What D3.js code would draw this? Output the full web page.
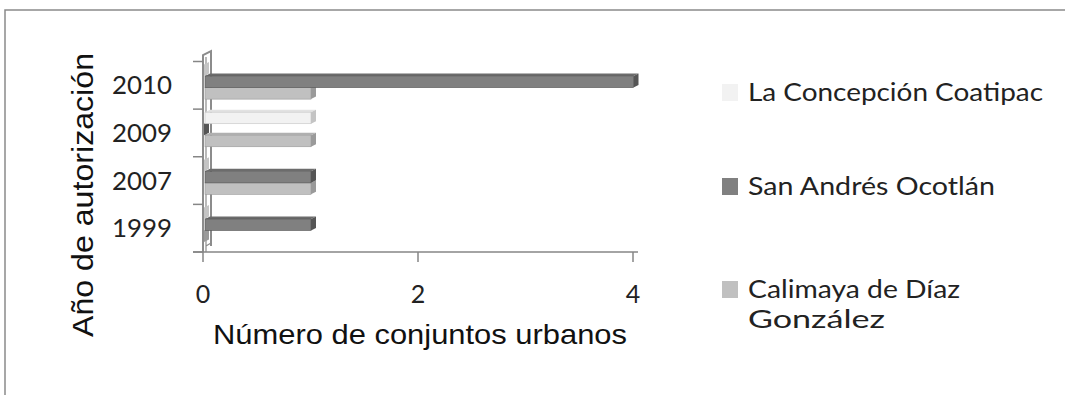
<!DOCTYPE html>
<html>
<head>
<meta charset="utf-8">
<script src="https://cdn.jsdelivr.net/npm/d3@7"></script>
<style>
  html, body { margin: 0; padding: 0; background: #fff; }
  svg { display: block; }
</style>
</head>
<body>
<script>
// Conjuntos urbanos autorizados por año y localidad
const categories = ["1999", "2007", "2009", "2010"];
const seriesNames = ["La Concepción Coatipac", "San Andrés Ocotlán", "Calimaya de Díaz González"];
const concepcion = [0, 0, 1, 0];
const sanAndres  = [1, 1, 0, 4];
const calimaya   = [0, 1, 1, 1];
const xTicks = [0, 2, 4];
const legendLabels = [["La Concepción Coatipac"], ["San Andrés Ocotlán"], ["Calimaya de Díaz", "González"]];
const yTitle = "Año de autorización";
const xTitle = "Número de conjuntos urbanos";

const seriesValues = [concepcion, sanAndres, calimaya];
const fronts = ["#f2f2f2", "#808080", "#c0c0c0"];
const sides  = ["#c4c4c4", "#555555", "#9a9a9a"];
const tops   = ["#e2e2e2", "#6c6c6c", "#b0b0b0"];

const W = 1065, H = 395;
const svg = d3.select("body").append("svg").attr("width", W).attr("height", H);

// chart frame
svg.append("path").attr("d", `M5,${H} L5,10 L${W},10`)
  .attr("fill", "none").attr("stroke", "#8a8a8a").attr("stroke-width", 1.5);

const x = d3.scaleLinear().domain([0, 4]).range([203, 633]);
const y0 = d3.scaleBand().domain(categories.slice().reverse()).range([61.5, 252]);
const bw = y0.bandwidth();
const y1 = d3.scaleBand().domain(d3.range(seriesNames.length)).range([bw * 0.065, bw * 0.79]);
const axisColor = "#868686";
const dx = 5, dy = 2.5;

// back wall (thin slab standing on the value axis origin)
const wall = svg.append("g").attr("fill", "none").attr("stroke", "#8c8c8c").attr("stroke-width", 1.2);
wall.append("path").attr("d", `M203,252 L203,55 L211,51 L211,246`).attr("stroke-width", 2);
wall.append("path").attr("d", `M206,252 L206,57 M206,246 L211,243`);

// floor line and category axis ticks
svg.append("line").attr("x1", 193).attr("x2", 638).attr("y1", 252).attr("y2", 252)
  .attr("stroke", axisColor).attr("stroke-width", 1.5);
const bounds = categories.map(c => y0(c)).concat([y0.range()[1]]);
svg.append("g").selectAll("line").data(bounds).join("line")
  .attr("x1", 193).attr("x2", 203).attr("y1", d => d).attr("y2", d => d)
  .attr("stroke", axisColor).attr("stroke-width", 1.5);

// value axis ticks and labels
const xAxis = svg.append("g");
xAxis.selectAll("line").data(xTicks).join("line")
  .attr("x1", d => x(d)).attr("x2", d => x(d)).attr("y1", 252).attr("y2", 262)
  .attr("stroke", axisColor).attr("stroke-width", 1.5);
xAxis.selectAll("text").data(xTicks).join("text")
  .attr("x", d => x(d)).attr("y", 303)
  .attr("text-anchor", "middle")
  .attr("font-family", "Lato, 'Open Sans', sans-serif").attr("font-size", 25)
  .attr("fill", "#222").text(d => d);

// category labels
svg.append("g").selectAll("text").data(categories).join("text")
  .attr("x", 172).attr("y", d => y0(d) + bw / 2 + 9)
  .attr("text-anchor", "end")
  .attr("font-family", "Lato, 'Open Sans', sans-serif").attr("font-size", 25)
  .attr("textLength", 60).attr("lengthAdjust", "spacingAndGlyphs")
  .attr("fill", "#222").text(d => d);

// 3D bars: lower bars of each cluster first so upper fronts hide their tops
const bars = [];
categories.forEach((c, ci) => {
  for (let s = seriesNames.length - 1; s >= 0; s--) {
    bars.push({ cat: c, s, v: seriesValues[s][ci] });
  }
});
const g = svg.append("g");
bars.forEach(b => {
  const yt = y0(b.cat) + y1(b.s), h = y1.bandwidth();
  const xs = x(0) + 2, xe = x(b.v) + (b.v > 0 ? 0.5 : 1);
  if (b.v > 0) {
    g.append("path")
      .attr("d", `M${xs},${yt} L${xe},${yt} L${xe + dx},${yt - dy} L${xs + dx},${yt - dy} Z`)
      .attr("fill", tops[b.s]);
    g.append("rect").attr("x", xs).attr("y", yt).attr("width", xe - xs).attr("height", h)
      .attr("fill", fronts[b.s]).attr("stroke", sides[b.s]).attr("stroke-width", 0.6);
  }
  g.append("path")
    .attr("d", `M${xe},${yt} L${xe + dx},${yt - dy} L${xe + dx},${yt + h - dy} L${xe},${yt + h} Z`)
    .attr("fill", sides[b.s]);
});

// axis titles
svg.append("text")
  .attr("transform", `translate(93,${(53 + 337) / 2}) rotate(-90)`)
  .attr("text-anchor", "middle")
  .attr("font-family", "'Liberation Sans', Arial, sans-serif").attr("font-size", 29)
  .attr("textLength", 284).attr("lengthAdjust", "spacingAndGlyphs")
  .attr("fill", "#111").text(yTitle);
svg.append("text")
  .attr("x", 420).attr("y", 344).attr("text-anchor", "middle")
  .attr("font-family", "'Liberation Sans', Arial, sans-serif").attr("font-size", 28)
  .attr("textLength", 414).attr("lengthAdjust", "spacingAndGlyphs")
  .attr("fill", "#111").text(xTitle);

// legend
const legendBase = [101, 195, 298];
const lineWidths = [[295], [247], [212, 137]];
const legend = svg.append("g");
seriesNames.forEach((name, i) => {
  legend.append("rect").attr("x", 722).attr("y", legendBase[i] - 17)
    .attr("width", 16).attr("height", 17).attr("fill", fronts[i]);
  legendLabels[i].forEach((ln, k) => {
    legend.append("text").attr("x", 748).attr("y", legendBase[i] + k * 30)
      .attr("font-family", "Lato, 'Open Sans', sans-serif").attr("font-size", 25)
      .attr("textLength", lineWidths[i][k]).attr("lengthAdjust", "spacingAndGlyphs")
      .attr("fill", "#222").text(ln);
  });
});
</script>
</body>
</html>
